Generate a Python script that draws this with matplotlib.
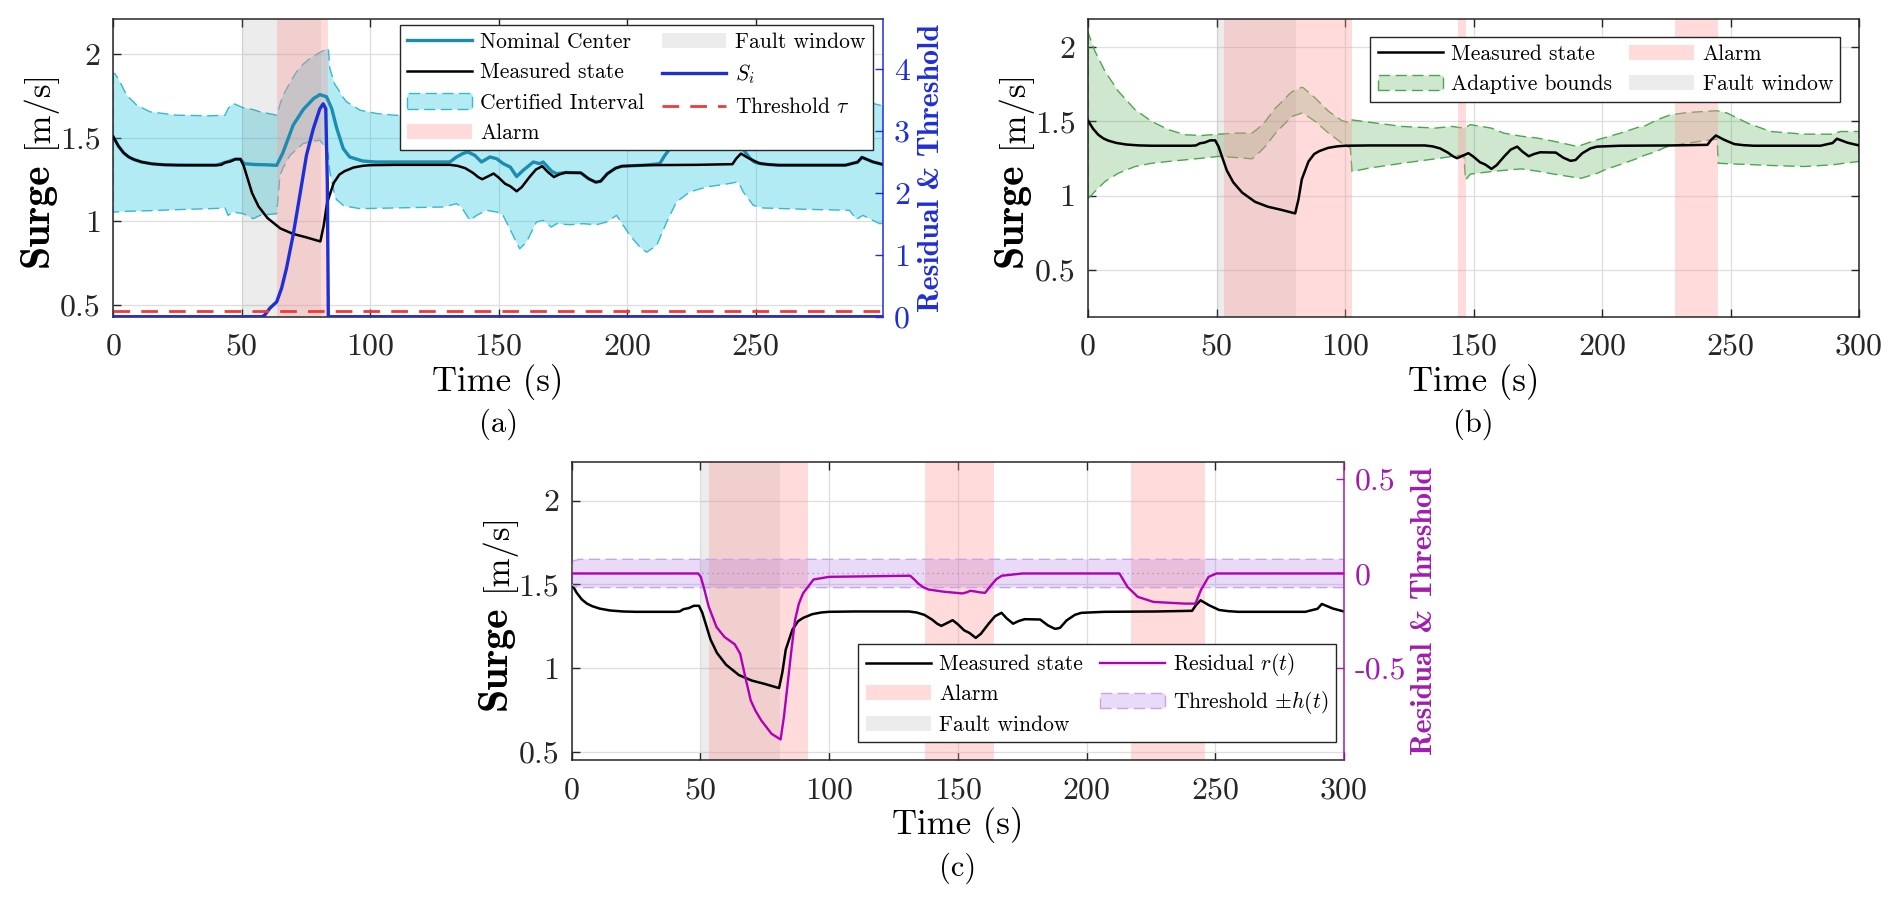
import matplotlib
matplotlib.use('Agg')
import matplotlib.pyplot as plt

plt.rcParams['font.family'] = ['cmr10', 'DejaVu Serif']
plt.rcParams['mathtext.fontset'] = 'cm'
plt.rcParams['axes.unicode_minus'] = False
plt.rcParams['axes.formatter.use_mathtext'] = True

# ---------------- data ----------------
# measured surge (same signal in all three panels)
meas_t = [0, 2, 4, 6, 8, 11, 15, 20, 25, 30, 35, 40, 42, 43.5, 45.5, 47.5, 49.5, 50.8, 52,
          54, 56.5, 60, 65, 70, 75, 80.6, 81.9, 83.2, 85.8, 88, 90, 93.5, 97, 100, 110, 120,
          131, 134, 137, 140, 142, 143.6, 146, 148, 150, 152.5, 154.5, 157, 159, 162, 164.5,
          167, 169, 171.5, 173.5, 176, 182, 185, 187.8, 189.7, 192.3, 195.5, 198, 207, 227,
          241, 242.5, 244.3, 247.5, 251.5, 255, 259, 270, 285, 287.8, 289.7, 291.4, 295.6, 300]
meas_v = [1.505, 1.45, 1.41, 1.385, 1.37, 1.355, 1.344, 1.338, 1.336, 1.336, 1.336, 1.336,
          1.338, 1.352, 1.358, 1.372, 1.372, 1.33, 1.27, 1.17, 1.09, 1.02, 0.958, 0.925, 0.905,
          0.88, 0.975, 1.11, 1.23, 1.28, 1.3, 1.322, 1.332, 1.336, 1.338, 1.338, 1.338, 1.332,
          1.318, 1.29, 1.265, 1.252, 1.27, 1.286, 1.262, 1.225, 1.21, 1.18, 1.205, 1.265, 1.31,
          1.33, 1.297, 1.265, 1.28, 1.292, 1.29, 1.255, 1.234, 1.24, 1.285, 1.318, 1.33, 1.336,
          1.338, 1.342, 1.376, 1.405, 1.376, 1.347, 1.34, 1.336, 1.336, 1.336, 1.347, 1.354,
          1.383, 1.356, 1.338]

# (a) certified interval
nom_t = [0, 2, 4, 6, 8, 11, 15, 20, 30, 40, 43.5, 47.5, 49.5, 51, 55, 60, 63.6, 66, 70, 74,
         78, 80.4, 83, 85, 87, 89.5, 92, 97, 102, 131, 133.6, 136, 138, 140.7, 143.3, 146.6,
         149.2, 151.8, 154.5, 157, 159.5, 163.5, 166, 167.3, 170.6, 172.5, 176, 182, 185,
         187.8, 189.7, 192.3, 195.5, 198, 207, 212.7, 214.5, 216.6, 218.5, 220.5, 223, 225.7,
         237, 242.5, 243.8, 245, 246.4, 248, 249.5, 252, 255, 259, 270, 285, 287.8, 289.7,
         291.4, 295.6, 300]
nom_v = [1.505, 1.45, 1.41, 1.385, 1.37, 1.355, 1.344, 1.338, 1.336, 1.336, 1.352, 1.372,
         1.372, 1.345, 1.34, 1.338, 1.335, 1.41, 1.575, 1.67, 1.735, 1.758, 1.745, 1.675,
         1.555, 1.435, 1.385, 1.361, 1.355, 1.355, 1.385, 1.405, 1.415, 1.395, 1.355, 1.385,
         1.375, 1.345, 1.325, 1.268, 1.305, 1.355, 1.345, 1.355, 1.3, 1.285, 1.292, 1.29,
         1.255, 1.234, 1.24, 1.285, 1.318, 1.33, 1.336, 1.345, 1.39, 1.435, 1.46, 1.475,
         1.485, 1.489, 1.491, 1.491, 1.465, 1.435, 1.405, 1.375, 1.355, 1.345, 1.34, 1.336,
         1.336, 1.336, 1.347, 1.354, 1.383, 1.356, 1.338]
ci_t = [0, 0.6, 2.6, 5.2, 9.1, 14.3, 24.6, 37.6, 43.5, 44.7, 46.7, 50.6, 54.5, 57.1, 63.6,
        64.9, 66.1, 68.8, 71.3, 73.9, 76.5, 80.4, 83, 83.7, 84.3, 86.2, 86.9, 89.5, 90.8, 96,
        102.5, 109, 128.4, 133.6, 135.5, 138.8, 141.4, 145.3, 149.2, 151.7, 154.3, 155.6,
        158.2, 160.8, 164.7, 167.3, 170.5, 172.5, 177.7, 182.9, 188.1, 192, 195.9, 201.1, 205,
        207.6, 211.5, 215.4, 219.2, 224.4, 230.9, 237.4, 243.3, 245.2, 249.1, 253, 269.8,
        286.6, 289.2, 291.8, 298.3, 300]
ci_lo = [1.056, 1.056, 1.058, 1.06, 1.062, 1.064, 1.07, 1.076, 1.08, 1.036, 1.056, 1.046,
         1.016, 1.036, 1.046, 1.275, 1.32, 1.395, 1.43, 1.465, 1.475, 1.485, 1.435, 1.40,
         1.295, 1.156, 1.13, 1.096, 1.09, 1.076, 1.078, 1.08, 1.086, 1.106, 1.086, 1.006,
         1.036, 1.066, 1.056, 1.036, 0.956, 0.916, 0.836, 0.876, 0.996, 1.006, 0.966, 0.986,
         0.98, 0.986, 0.98, 0.996, 1.036, 0.916, 0.846, 0.816, 0.856, 0.996, 1.116, 1.176,
         1.206, 1.22, 1.236, 1.176, 1.096, 1.08, 1.072, 1.066, 1.012, 1.036, 0.986, 0.99]
ci_hi = [1.884, 1.884, 1.834, 1.754, 1.695, 1.655, 1.635, 1.631, 1.635, 1.675, 1.705, 1.679,
         1.668, 1.655, 1.635, 1.70, 1.754, 1.83, 1.894, 1.94, 1.974, 2.01, 2.03, 2.034, 1.914,
         1.82, 1.804, 1.74, 1.715, 1.665, 1.645, 1.635, 1.625, 1.66, 1.72, 1.80, 1.76, 1.70,
         1.69, 1.66, 1.69, 1.70, 1.72, 1.72, 1.71, 1.70, 1.64, 1.59, 1.60, 1.59, 1.50, 1.57,
         1.60, 1.75, 1.83, 1.86, 1.82, 1.85, 1.82, 1.80, 1.78, 1.76, 1.75, 1.70, 1.62, 1.61,
         1.60, 1.61, 1.68, 1.72, 1.695, 1.69]
si_t = [0, 58, 59, 61, 63.6, 65.5, 67.4, 70, 72.6, 75.2, 77.8, 80.4, 81.7, 82.7, 83.3, 83.7, 300]
si_v = [0, 0, 0.03, 0.14, 0.24, 0.46, 0.78, 1.32, 1.96, 2.61, 3.03, 3.36, 3.44, 3.36, 2.18, 0, 0]
tau_t = [0, 300]
tau_v = [0.1, 0.1]
alarm_a = [(63.6, 83.7)]
fault_a = (50.2, 80.7)

# (b) adaptive bounds
ab_t = [0, 2.7, 6.6, 11.8, 18.3, 24.8, 31.3, 37.8, 44.3, 50.8, 57.3, 63.8, 66, 69, 72.9, 74.2,
        78.1, 79.4, 83.2, 83.9, 88.4, 93.6, 98.8, 102.1, 102.7, 109.2, 122.2, 135.2, 141.7,
        146.2, 146.9, 148.8, 156.9, 161.8, 168.6, 174.8, 181.6, 190.4, 192, 198.1, 201, 207.2,
        214, 216.3, 221.5, 224.4, 226.7, 233.5, 242.6, 244.8, 245.2, 248.7, 253, 256.5, 265.6,
        278.6, 289.4, 292.9, 300]
ab_lo = [0.98, 1.027, 1.095, 1.151, 1.196, 1.218, 1.23, 1.241, 1.252, 1.264, 1.257, 1.248,
         1.28, 1.331, 1.42, 1.444, 1.51, 1.534, 1.556, 1.553, 1.50, 1.421, 1.354, 1.32, 1.162,
         1.185, 1.218, 1.248, 1.264, 1.275, 1.106, 1.145, 1.162, 1.17, 1.18, 1.165, 1.144, 1.12,
         1.117, 1.15, 1.173, 1.21, 1.252, 1.27, 1.30, 1.324, 1.335, 1.354, 1.376, 1.38, 1.218,
         1.215, 1.212, 1.21, 1.203, 1.196, 1.207, 1.215, 1.23]
ab_hi = [2.10, 1.973, 1.838, 1.703, 1.579, 1.50, 1.444, 1.41, 1.405, 1.414, 1.421, 1.421,
         1.45, 1.50, 1.59, 1.61, 1.68, 1.70, 1.73, 1.725, 1.658, 1.568, 1.505, 1.489, 1.51,
         1.495, 1.466, 1.455, 1.466, 1.455, 1.46, 1.478, 1.455, 1.421, 1.40, 1.388, 1.365,
         1.331, 1.34, 1.376, 1.39, 1.421, 1.46, 1.466, 1.511, 1.53, 1.545, 1.56, 1.57, 1.572,
         1.57, 1.556, 1.52, 1.489, 1.432, 1.414, 1.414, 1.432, 1.432]
alarm_b = [(53.1, 102.7), (144.0, 147.1), (228.3, 245.2)]
fault_b = (50.1, 80.9)

# (c) residual test
res_t = [0, 49.2, 50.2, 51.5, 53.3, 56.3, 59.4, 63.4, 65.5, 67.5, 69.6, 71.5, 73.7, 77.7, 81.2,
         82.5, 83.8, 85.3, 86.8, 88.3, 89.9, 94, 100, 131.5, 133, 134.6, 136.5, 138.6, 144.7,
         151.8, 153.5, 154.9, 156.5, 158.5, 160.6, 163, 165, 167.1, 175.2, 212.8, 215.9, 219.9,
         226, 238.2, 242.3, 244.4, 247.4, 250.5, 300]
res_v = [0, 0, -0.018, -0.08, -0.177, -0.284, -0.337, -0.376, -0.426, -0.55, -0.674, -0.73,
         -0.78, -0.851, -0.881, -0.76, -0.603, -0.42, -0.248, -0.16, -0.106, -0.032, -0.018,
         -0.012, -0.03, -0.053, -0.072, -0.085, -0.097, -0.106, -0.1, -0.092, -0.095, -0.1,
         -0.103, -0.062, -0.03, -0.012, 0, 0, -0.071, -0.124, -0.151, -0.16, -0.16, -0.089,
         -0.018, 0, 0]
h_t = [0, 1, 3, 300]
h_v = [0.055, 0.068, 0.075, 0.075]
alarm_c = [(53.3, 91.9), (137.2, 164.0), (217.3, 245.9)]
fault_c = (50.2, 81.1)

# ---------------- styling ----------------
EDGE = '#262626'
GRID = '#dedede'
BLUE = '#1f2fd6'
PURPLE = '#a21bb0'
ALARM = dict(color=(1, 0.6, 0.6), alpha=0.35, lw=0)
FAULT = dict(color=(0.5, 0.5, 0.5), alpha=0.15, lw=0)
TICK_FS = 23
DASH = (0, (8, 4))
LEG = dict(fontsize=15.5, frameon=True, fancybox=False, edgecolor=EDGE, framealpha=1,
           handlelength=3.0, handletextpad=0.4, columnspacing=0.8, borderpad=0.35,
           labelspacing=0.5, borderaxespad=0)

W, H = 1898, 899
fig = plt.figure(figsize=(W / 100, H / 100), dpi=100)
renderer = fig.canvas.get_renderer()


def px_axes(x0, y0, x1, y1):
    return fig.add_axes([x0 / W, 1 - y1 / H, (x1 - x0) / W, (y1 - y0) / H])


def fmt(v):
    return ('%g' % v)


def surge_label(ax):
    # bold "Surge" is set larger than the unit, as in the original figure
    bb = ax.get_position()
    w_px, h_px = bb.width * W, bb.height * H
    t1 = ax.text(0, 0, 'Surge', family='cmb10', fontsize=30, rotation=90,
                 ha='center', va='baseline', rotation_mode='anchor', transform=ax.transAxes)
    t2 = ax.text(0, 0, '[m/s]', fontsize=25, rotation=90,
                 ha='center', va='baseline', rotation_mode='anchor', transform=ax.transAxes)
    l1 = t1.get_window_extent(renderer).height
    l2 = t2.get_window_extent(renderer).height
    gap = 14
    total = l1 + gap + l2
    xb = -66 / w_px
    t1.set_position((xb, (h_px / 2 - total / 2 + l1 / 2) / h_px))
    t2.set_position((xb, (h_px / 2 + total / 2 - l2 / 2) / h_px))


def base_style(ax, xmax, ylim, xticks, has_twin):
    ax.set_xlim(0, xmax)
    ax.set_ylim(*ylim)
    ax.set_xticks(xticks, [fmt(v) for v in xticks])
    yt = [0.5, 1, 1.5, 2]
    ax.set_yticks(yt, [fmt(v) for v in yt])
    ax.grid(True, color=GRID, lw=0.9)
    ax.set_axisbelow(True)
    ax.tick_params(direction='in', top=True, right=not has_twin, length=6, width=1,
                   colors=EDGE, labelsize=TICK_FS)
    ax.tick_params(axis='x', pad=12)
    ax.tick_params(axis='y', pad=9)
    for s in ax.spines.values():
        s.set_color(EDGE)
        s.set_linewidth(1.1)
    if has_twin:
        ax.spines['right'].set_visible(False)
    surge_label(ax)
    ax.set_xlabel('Time (s)', fontsize=25, labelpad=2)


def twin_style(tw, ylim, yticks, color, label_x):
    tw.set_ylim(*ylim)
    tw.set_yticks(yticks, [fmt(v) for v in yticks])
    tw.tick_params(direction='in', length=6, width=1, colors=color, labelsize=TICK_FS, pad=8)
    for k in ('top', 'left', 'bottom'):
        tw.spines[k].set_visible(False)
    tw.spines['right'].set_color(color)
    tw.spines['right'].set_linewidth(1.1)
    tw.set_ylabel('Residual & Threshold', family='cmb10', fontsize=21.5, color=color)
    tw.yaxis.set_label_coords(label_x, 0.5)


def spans(ax, alarms, fault):
    f = ax.axvspan(*fault, **FAULT, zorder=1.2)
    a = None
    for lo, hi in alarms:
        r = ax.axvspan(lo, hi, **ALARM, zorder=1.3)
        a = a or r
    return a, f


# ---------------- (a) ----------------
ax = px_axes(113.3, 19, 883, 316.7)
ci = ax.fill_between(ci_t, ci_lo, ci_hi, facecolor=(0, 0.75, 0.85, 0.3),
                     edgecolor='#35b8d0', linestyle=DASH, linewidth=1.0, zorder=1)
al, fw = spans(ax, alarm_a, fault_a)
nom, = ax.plot(nom_t, nom_v, color='#1a8db0', lw=2.4, zorder=2)
ms, = ax.plot(meas_t, meas_v, color='k', lw=1.8, zorder=3)
base_style(ax, 299.6, (0.43, 2.21), [0, 50, 100, 150, 200, 250], True)
tw = ax.twinx()
si, = tw.plot(si_t, si_v, color=BLUE, lw=2.4)
tau, = tw.plot(tau_t, tau_v, color='#f03a3a', lw=2, dashes=(6, 4))
twin_style(tw, (0, 4.81), [0, 1, 2, 3, 4], BLUE, 1.045)
tw.legend([nom, ms, ci, al, fw, si, tau],
          ['Nominal Center', 'Measured state', 'Certified Interval', 'Alarm',
           'Fault window', r'$S_i$', r'Threshold $\tau$'],
          ncol=2, loc='upper right', bbox_to_anchor=(0.987, 0.98), **LEG)
fig.text((113.3 + 883) / 2 / W, 1 - 424 / H, '(a)', ha='center', va='center', fontsize=22)

# ---------------- (b) ----------------
ax = px_axes(1088, 19, 1859, 316.7)
ab = ax.fill_between(ab_t, ab_lo, ab_hi, facecolor=(0.2, 0.62, 0.2, 0.24),
                     edgecolor='#4aa84a', linestyle=DASH, linewidth=1.0, zorder=1)
al, fw = spans(ax, alarm_b, fault_b)
ms, = ax.plot(meas_t, meas_v, color='k', lw=1.8, zorder=3)
base_style(ax, 300, (0.184, 2.19), [0, 50, 100, 150, 200, 250, 300], False)
ax.legend([ms, ab, al, fw], ['Measured state', 'Adaptive bounds', 'Alarm', 'Fault window'],
          ncol=2, loc='upper right', bbox_to_anchor=(0.976, 0.94), **LEG)
fig.text((1088 + 1859) / 2 / W, 1 - 424 / H, '(b)', ha='center', va='center', fontsize=22)

# ---------------- (c) ----------------
ax = px_axes(571.5, 462.3, 1344, 760)
al, fw = spans(ax, alarm_c, fault_c)
ms, = ax.plot(meas_t, meas_v, color='k', lw=1.8, zorder=3)
base_style(ax, 300, (0.45, 2.23), [0, 50, 100, 150, 200, 250, 300], True)
tw = ax.twinx()
hb = tw.fill_between(h_t, [-v for v in h_v], h_v, facecolor=(0.62, 0.35, 0.88, 0.22),
                     edgecolor='#c7a3ea', linestyle=DASH, linewidth=1.0)
tw.axhline(0, color='#999999', lw=0.9, ls=(0, (1, 3)))
rs, = tw.plot(res_t, res_v, color='#b000b8', lw=1.7)
twin_style(tw, (-0.99, 0.59), [-0.5, 0, 0.5], PURPLE, 1.087)
tw.legend([ms, al, fw, rs, hb],
          ['Measured state', 'Alarm', 'Fault window', r'Residual $r(t)$', r'Threshold $\pm h(t)$'],
          ncol=2, loc='lower right', bbox_to_anchor=(0.99, 0.0595), **LEG)
fig.text((571.5 + 1344) / 2 / W, 1 - 868 / H, '(c)', ha='center', va='center', fontsize=22)

fig.savefig('out.png', dpi=100)
